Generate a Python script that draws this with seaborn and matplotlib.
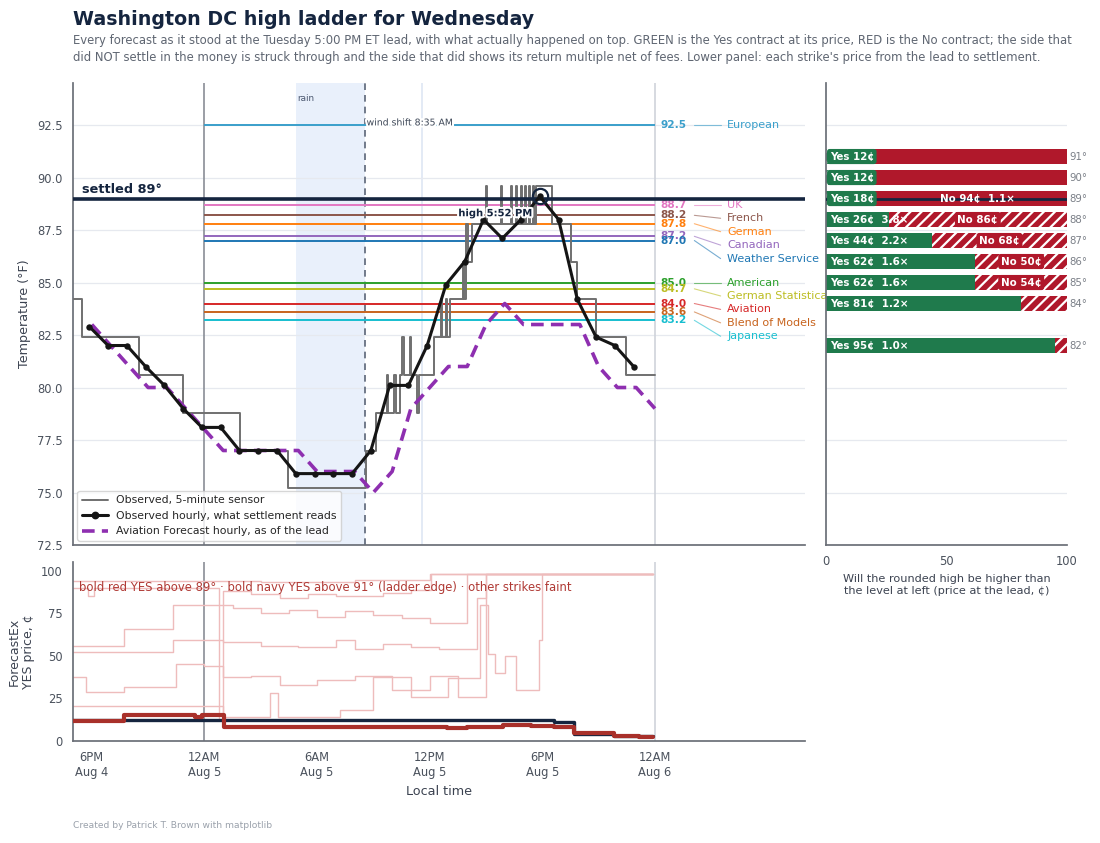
import numpy as np
import matplotlib
matplotlib.use("Agg")
import matplotlib.pyplot as plt
import matplotlib.patheffects as pe
from matplotlib.lines import Line2D
from matplotlib.ticker import FormatStrFormatter
import seaborn as sns

# all times are hours from 12AM Aug 5 (local)
tick_hours = [-6, 0, 6, 12, 18, 24]
tick_labels = ["6PM\nAug 4", "12AM\nAug 5", "6AM\nAug 5", "12PM\nAug 5", "6PM\nAug 5", "12AM\nAug 6"]

# hourly observations (taken at :52 each hour, 5:52 PM Aug 4 -> 10:52 PM Aug 5)
hourly_t = np.arange(-7, 23) + 52 / 60
hourly_temp = [82.9, 82.0, 82.0, 81.0, 80.1, 79.0, 78.1, 78.1, 77.0, 77.0,
               77.0, 75.9, 75.9, 75.9, 75.9, 77.0, 80.1, 80.1, 82.0, 84.9,
               86.0, 88.0, 87.1, 88.0, 89.1, 88.0, 84.2, 82.4, 82.0, 81.0]

# aviation forecast hourly as of the lead (6PM Aug 4 -> 12AM Aug 6)
fc_t = np.arange(-6, 25)
fc_temp = [83, 82, 81, 80, 80, 79, 78, 77, 77, 77, 77, 77, 76, 76, 76, 75,
           76, 79, 80, 81, 81, 83, 84, 83, 83, 83, 83, 81, 80, 80, 79]

# 5-minute sensor, change points (hour, deg F)
sensor_t = [-7, -6.5, -3.47, -1.12, 1.87, 4.43, 8.59, 9.12,
            9.7, 9.78, 10.1, 10.18, 10.4, 10.55, 10.63, 10.95, 11.03, 11.35, 11.45,
            12.23, 12.6, 12.68, 12.85, 12.93, 13.1, 13.3, 13.75, 13.83, 13.95, 14.03, 14.28,
            14.99, 15.07, 15.79, 15.87, 16.32, 16.4, 16.59, 16.67, 16.85, 16.93,
            17.07, 17.15, 17.28, 17.36, 17.49, 17.57, 17.65, 18.54, 19.52, 19.87,
            20.85, 22.45]
sensor_temp = [84.2, 82.4, 80.6, 78.8, 77.0, 75.2, 77.0, 78.8,
               80.6, 78.8, 80.6, 78.8, 80.6, 82.4, 80.6, 82.4, 80.6, 78.8, 80.6,
               82.4, 84.2, 82.4, 84.2, 82.4, 84.2, 84.2, 86.0, 84.2, 87.8, 86.0, 87.8,
               89.6, 87.8, 89.6, 87.8, 89.6, 87.8, 89.6, 87.8, 89.6, 87.8,
               89.6, 87.8, 89.6, 87.8, 89.6, 87.8, 89.6, 87.8, 86.0, 84.2,
               82.4, 80.6]

# forecast highs at the lead
fc_names = ["European", "UK", "French", "German", "Canadian", "Weather Service",
            "American", "German Statistical", "Aviation", "Blend of Models", "Japanese"]
fc_high = [92.5, 88.7, 88.2, 87.8, 87.2, 87.0, 85.0, 84.7, 84.0, 83.6, 83.2]
fc_colors = ["#3a9fcb", "#e377c2", "#8c564b", "#ff7f0e", "#9467bd", "#1f77b4",
             "#2ca02c", "#bcbd22", "#d62728", "#c8641e", "#17becf"]

settled = 89
high_time = 17 + 52 / 60

# ladder at the lead
strikes = [91, 90, 89, 88, 87, 86, 85, 84, 82]
yes_price = [12, 12, 18, 26, 44, 62, 62, 81, 95]
yes_mult = ["", "", "", "3.8×", "2.2×", "1.6×", "1.6×", "1.2×", "1.0×"]
no_price = [None, None, 94, 86, 68, 50, 54, None, None]
no_mult = ["", "", "1.1×", "", "", "", "", "", ""]

# ForecastEx YES prices (change points)
red89_t = [-7, -4.3, -0.48, -0.12, 1.03, 9.83, 12.94, 14.0, 15.88, 17.39, 18.6, 19.68, 21.8, 23.15]
red89_p = [12, 15, 14, 15, 8, 8.4, 7.4, 8.4, 9.4, 9.0, 8.0, 4.5, 3.1, 2.2]
navy91_t = [-7, 18.6, 19.7, 21.8]
navy91_p = [12.3, 10.9, 4.3, 3.1]

faint_t = [
    [-7, -2, 3, 8, 12.0],
    [-7, -6.2, -5.9, 0.8, 1.0, 2.5, 4.0, 5.5, 7.0, 9.5, 11.0, 12.05],
    [-7, -4.3, -1.7, 1.5, 3.0, 4.5, 6.0, 7.5, 9.0, 10.5, 12.0, 14.0],
    [-7, -1.7, 1.0, 3.0, 5.0, 7.0, 8.0, 9.5, 11.0, 12.5, 14.5, 15.0],
    [-7, -6.3, -4.3, -1.5, 0.0, 1.0, 2.5, 4.0, 6.0, 8.0, 10.0, 12.0, 13.5, 15.0],
    [-7, 0.0, 1.0, 3.5, 3.9, 6.0, 7.2, 9.0, 11.0, 13.0, 14.7, 15.1, 15.5, 16.0, 16.6, 17.8, 18.0],
]
faint_p = [
    [93.6, 94.0, 93.2, 94.4, 97.7],
    [89.5, 85.2, 89.5, 12.5, 88.0, 86.0, 84.0, 86.5, 85.0, 87.0, 88.5, 97.7],
    [56.0, 66.0, 80.0, 78.0, 75.0, 77.0, 73.0, 76.0, 74.0, 72.0, 69.0, 97.7],
    [52.0, 59.0, 58.0, 56.0, 55.0, 59.0, 54.0, 57.0, 55.0, 54.0, 84.0, 97.7],
    [37.6, 28.8, 31.8, 45.4, 44.0, 37.6, 38.0, 33.0, 36.0, 38.0, 30.0, 38.0, 26.0, 97.7],
    [20.5, 20.5, 14.2, 27.9, 14.2, 14.0, 18.0, 37.6, 26.0, 37.0, 80.0, 51.0, 40.0, 50.0, 30.0, 59.0, 97.7],
]

NAVY = "#15253f"
PURPLE = "#8e2fb0"
GREEN = "#1f7a4c"
RED = "#b0182b"
GRID = "#e6e9ef"
TICK = "#4a515c"
LABEL = "#3b4250"

sns.set_theme(style="white")
plt.rcParams["font.family"] = ["DejaVu Sans"]
plt.rcParams["hatch.linewidth"] = 1.6

fig = plt.figure(figsize=(11, 8.43), dpi=100)
ax = fig.add_axes([0.0664, 0.3535, 0.6655, 0.548])
axr = fig.add_axes([0.7509, 0.3535, 0.2191, 0.548])
axb = fig.add_axes([0.0664, 0.121, 0.6655, 0.2123])

for a in (ax, axr, axb):
    for s in ("top", "right"):
        a.spines[s].set_visible(False)
    for s in ("left", "bottom"):
        a.spines[s].set_color("#6b6f77")
    a.tick_params(colors="#6b6f77", labelcolor=TICK, labelsize=8.3, length=4, direction="out")
    a.set_axisbelow(True)

# ---- main panel ----
ax.set_xlim(-7, 32)
ax.set_ylim(72.5, 94.5)
ax.set_yticks(np.arange(72.5, 93, 2.5))
ax.yaxis.set_major_formatter(FormatStrFormatter("%.1f"))
ax.yaxis.grid(True, color=GRID, lw=0.9)
ax.set_xticks(tick_hours)
ax.set_xticklabels([])
ax.set_ylabel("Temperature (°F)", fontsize=9.2, color=LABEL)

ax.axvspan(4.9, 8.58, color="#e9f0fb", zorder=0, lw=0)
ax.axvline(11.58, color="#e1e8f4", lw=1.3, zorder=0)
ax.axvline(0, color="#8a8e96", lw=1.2, zorder=1)
ax.axvline(24, color="#cfd3da", lw=1.2, zorder=1)
ax.axvline(8.58, color="#5b6577", lw=1.2, ls=(0, (4, 3)), zorder=2)
ax.text(4.95, 93.75, "rain", fontsize=6.4, color="#4b5870", va="center")
ax.text(8.64, 92.6, "wind shift 8:35 AM", fontsize=6.7, color="#3c4656", va="center",
        zorder=6, path_effects=[pe.withStroke(linewidth=3, foreground="white")])

ax.hlines(fc_high, 0, 24, colors=fc_colors, lw=1.4, zorder=2)

# labels for the forecast lines: value at the line, name spread so they don't collide
label_y = []
for v in fc_high:
    y = v if not label_y else min(v, label_y[-1] - 0.64)
    label_y.append(y)
for v, y, name, c in zip(fc_high, label_y, fc_names, fc_colors):
    ax.text(24.3, v, f"{v:.1f}", color=c, fontsize=7.6, fontweight="bold", va="center")
    ax.plot([26.1, 27.5], [v, y], color=c, lw=0.8, alpha=0.6, clip_on=False)
    ax.text(27.85, y, name, color=c, fontsize=8, va="center")

ax.step(sensor_t + [24], sensor_temp + [sensor_temp[-1]], where="post",
        color="#707070", lw=1.4, zorder=3)
sns.lineplot(x=fc_t, y=fc_temp, ax=ax, color=PURPLE, lw=2.6,
             linestyle=(0, (3.5, 2)), zorder=4)
sns.lineplot(x=hourly_t, y=hourly_temp, ax=ax, color="#151515", lw=2.2,
             marker="o", markersize=4.6, markeredgewidth=0, zorder=6)

ax.axhline(settled, color=NAVY, lw=2.6, zorder=5)
ax.text(-6.5, settled + 0.12, f"settled {settled}°", fontsize=9.3, fontweight="bold",
        color=NAVY, va="bottom")
ax.plot(high_time, 89.1, marker="o", ms=11, mfc="none", mec=NAVY, mew=1.6, zorder=7)
ax.text(15.5, 88.3, "high 5:52 PM", fontsize=7.2, fontweight="bold", color=NAVY,
        ha="center", va="center", zorder=8,
        path_effects=[pe.withStroke(linewidth=3, foreground="white")])

handles = [
    Line2D([], [], color="#707070", lw=1.4),
    Line2D([], [], color="#151515", lw=2.2, marker="o", ms=4.6),
    Line2D([], [], color=PURPLE, lw=2.6, ls=(0, (3.5, 2))),
]
leg = ax.legend(handles, ["Observed, 5-minute sensor",
                          "Observed hourly, what settlement reads",
                          "Aviation Forecast hourly, as of the lead"],
                loc="lower left", fontsize=7.8, frameon=True, borderaxespad=0.4,
                handlelength=2.4)
leg.get_frame().set_edgecolor("#cccccc")

# ---- ladder panel ----
axr.set_ylim(72.5, 94.5)
axr.set_yticks(np.arange(72.5, 93, 2.5))
axr.tick_params(labelleft=False)
axr.yaxis.grid(True, color=GRID, lw=0.9)
axr.set_xlim(0, 100)
axr.set_xticks([0, 50, 100])
axr.set_xlabel("Will the rounded high be higher than\nthe level at left (price at the lead, ¢)",
               fontsize=8.1, color=LABEL)

for s, yp, ym, npr, nm in zip(strikes, yes_price, yes_mult, no_price, no_mult):
    yes_wins = settled > s
    axr.barh(s, yp, left=0, height=0.68, color=GREEN, edgecolor="white" if not yes_wins else GREEN,
             hatch=None if yes_wins else "///", lw=0, zorder=2)
    axr.barh(s, 100 - yp, left=yp, height=0.68, color=RED, edgecolor="white" if yes_wins else RED,
             hatch="///" if yes_wins else None, lw=0, zorder=2)
    ytxt = f"Yes {yp}¢" + (f"  {ym}" if ym else "")
    ybox = None if yes_wins else dict(boxstyle="round,pad=0.25", fc=GREEN, ec="none")
    axr.text(1.5, s, ytxt, color="white", fontsize=7.4, fontweight="bold", va="center", zorder=4,
             bbox=ybox)
    if npr is not None:
        ntxt = f"No {npr}¢" + (f"  {nm}" if nm else "")
        nbox = dict(boxstyle="round,pad=0.25", fc=RED, ec="none") if yes_wins else None
        axr.text((yp + 100) / 2 + (4 if nm else 0), s, ntxt, color="white", fontsize=7.4,
                 fontweight="bold", ha="center", va="center", zorder=4, bbox=nbox)
    axr.text(101, s, f"{s}°", color="#7a7f87", fontsize=7.3, va="center")
axr.axhline(settled, color=NAVY, lw=2, zorder=3)

# ---- price panel ----
axb.set_xlim(-7, 32)
axb.set_ylim(0, 105)
axb.set_yticks([0, 25, 50, 75, 100])
axb.set_xticks(tick_hours)
axb.set_xticklabels(tick_labels)
axb.set_xlabel("Local time", fontsize=9.2, color=LABEL)
axb.set_ylabel("ForecastEx\nYES price, ¢", fontsize=9, color=LABEL)
axb.axvline(0, color="#8a8e96", lw=1.2, zorder=1)
axb.axvline(24, color="#cfd3da", lw=1.2, zorder=1)

for t, p in zip(faint_t, faint_p):
    axb.step(t + [23.9], p + [p[-1]], where="post", color="#eebcbc", lw=1.0, zorder=2)
axb.step(navy91_t + [23.9], navy91_p + [navy91_p[-1]], where="post", color=NAVY, lw=2.4, zorder=3)
axb.step(red89_t + [23.9], red89_p + [red89_p[-1]], where="post", color="#a8302a", lw=3, zorder=4)
axb.text(-6.7, 90, "bold red YES above 89° · bold navy YES above 91° (ladder edge) · other strikes faint",
         fontsize=8.35, color="#b03a35", va="center", zorder=5)

# ---- titles ----
fig.text(0.0664, 0.9765, "Washington DC high ladder for Wednesday", fontsize=13.7, fontweight="bold",
         color=NAVY, va="center")
fig.text(0.0664, 0.9595,
         "Every forecast as it stood at the Tuesday 5:00 PM ET lead, with what actually happened on top. "
         "GREEN is the Yes contract at its price, RED is the No contract; the side that\n"
         "did NOT settle in the money is struck through and the side that did shows its return "
         "multiple net of fees. Lower panel: each strike's price from the lead to settlement.",
         fontsize=8.4, color="#5f6672", va="top", linespacing=1.4)
fig.text(0.0664, 0.018, "Created by Patrick T. Brown with matplotlib", fontsize=6.6, color="#9aa1ab")

fig.savefig("out.png", dpi=100)
